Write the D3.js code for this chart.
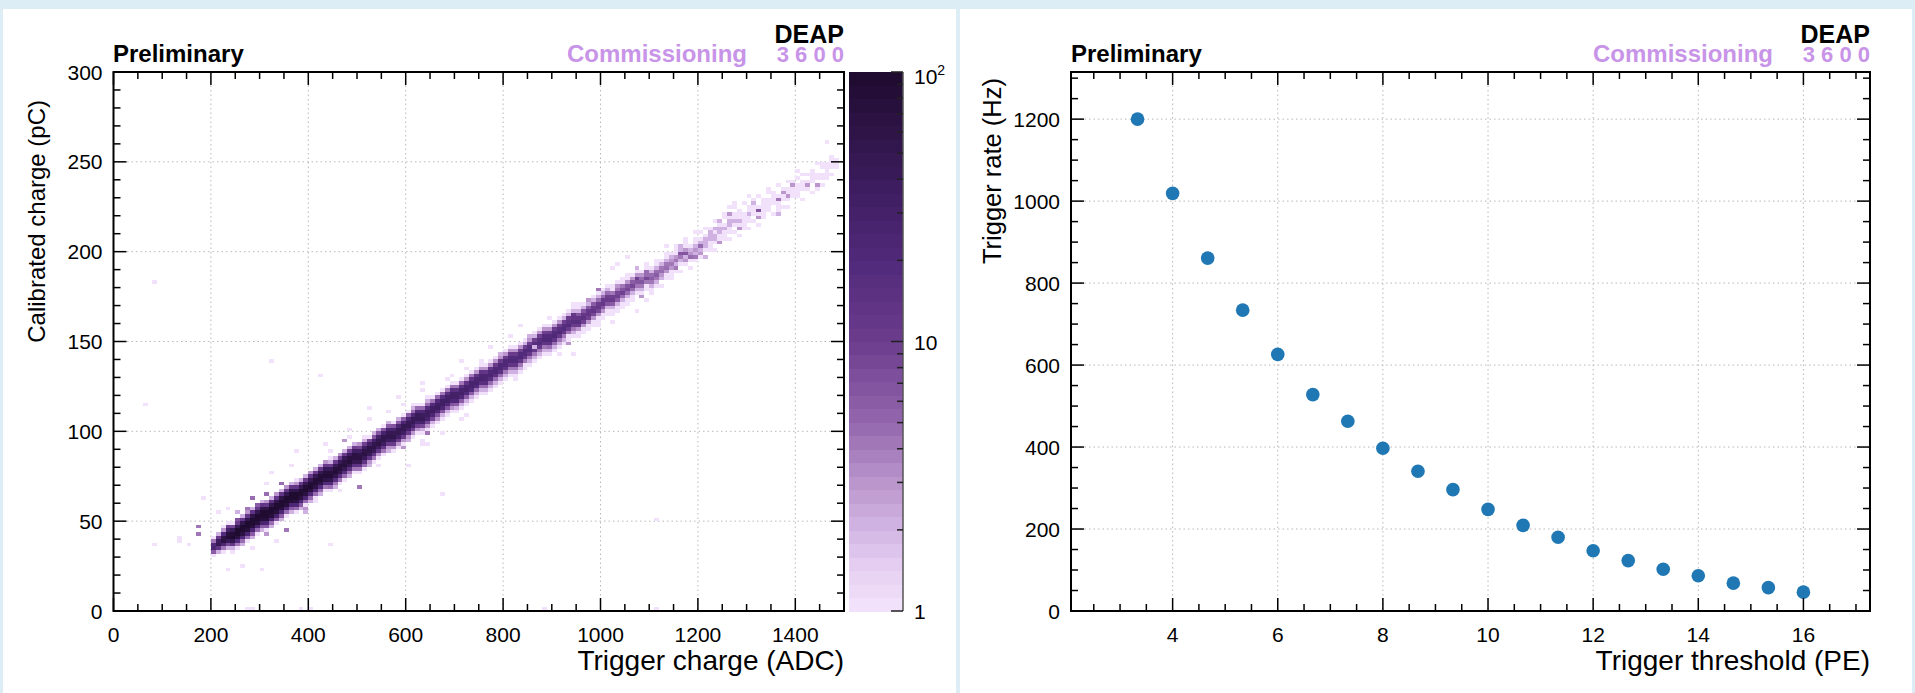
<!DOCTYPE html>
<html><head><meta charset="utf-8">
<script src="https://cdn.jsdelivr.net/npm/d3@7"></script>
<style>
body{margin:0;background:#dcedf5;}
svg{display:block;font-family:"Liberation Sans",Arial,Helvetica,sans-serif;}
</style>
</head><body>
<svg id="c" width="1915" height="693"></svg>
<script>
// ---------------- DATA ----------------
// Right panel: trigger rate vs threshold
const thresholdPE = [3.333,4,4.667,5.333,6,6.667,7.333,8,8.667,9.333,10,10.667,11.333,12,12.667,13.333,14,14.667,15.333,16];
const triggerRateHz = [1200,1019,861,734,626,528,463,397,341,296,248,209,180,147,123,102,86,68,57,46];

// Left panel: 2D histogram (10 ADC x 2 pC bins), band read column by column
const bandColX = [200,210,220,230,240,250,260,270,280,290,300,310,320,330,340,350,360,370,380,390,
  400,410,420,430,440,450,460,470,480,490,500,510,520,530,540,550,560,570,580,590,
  600,610,620,630,640,650,660,670,680,690,700,710,720,730,740,750,760,770,780,790,
  800,810,820,830,840,850,860,870,880,890,900,910,920,930,940,950,960,970,980,990,
  1000,1010,1020,1030,1040,1050,1060,1070,1080,1090,1100,1110,1120,1130,1140,1150,1160,1170,1180,1190,
  1200,1210,1220,1230,1240,1250,1260,1270,1280,1290,1300,1310,1320,1330,1340,1350,1360,1370,1380,1390,
  1400,1410,1420,1430,1440,1450,1460,1470,1480];
const bandCenterY = [34,36,38,40,40,42,44,46,48,50,52,52,54,56,58,60,62,62,64,66,
  68,70,72,74,74,76,78,80,82,84,84,86,88,90,92,94,96,96,98,100,
  102,104,106,106,108,110,112,114,116,118,118,120,122,124,126,128,128,130,132,134,
  136,138,138,140,142,144,146,148,150,150,152,154,156,158,160,160,162,164,166,168,
  170,172,172,174,176,178,180,182,182,184,184,186,188,190,192,194,196,198,198,200,
  202,204,206,208,210,212,214,216,216,218,220,222,222,224,226,228,228,230,232,234,
  236,236,238,240,240,242,244,246,248];
// counts in the bins at offsets -4..+4 (2 pC each) around the band centre
const bandProfiles = [
 [0,0,1,6,25,18,4,1,0],[0,0,2,14,45,38,10,2,0],[0,1,4,25,70,60,18,3,1],[0,2,8,40,85,75,30,5,1],[1,2,12,55,95,85,40,8,1],
 [1,4,18,65,100,92,48,10,2],[2,5,22,70,100,95,52,12,2],[1,5,24,75,100,95,55,12,3],[2,6,25,72,100,98,58,14,2],[1,5,24,75,100,95,55,12,3],
 [2,6,26,76,100,96,56,13,2],[1,6,25,74,100,98,58,12,3],[2,5,24,75,100,95,55,14,2],[1,6,26,76,100,96,56,12,3],[2,6,25,74,100,95,58,13,2],
 [1,5,24,72,100,94,55,12,3],[2,6,24,72,98,92,54,12,2],[1,5,22,70,96,90,52,13,3],[2,6,22,68,94,88,50,12,2],[1,5,22,66,92,86,48,11,2],
 [2,5,20,64,90,85,48,12,3],[1,5,20,62,88,82,46,11,2],[2,5,19,60,86,80,45,10,2],[1,4,18,58,84,78,44,11,3],[1,5,18,56,82,76,42,10,2],
 [2,4,17,54,80,74,40,10,2],[1,4,16,52,78,72,40,9,3],[1,5,16,50,75,70,38,10,2],[2,4,15,48,72,68,36,9,2],[1,4,15,46,70,65,35,9,2],
 [1,4,14,45,68,62,34,8,2],[1,4,14,43,65,60,32,8,2],[2,3,13,42,62,58,31,8,1],[1,4,13,40,60,56,30,7,2],[1,3,12,38,58,54,29,7,2],
 [1,4,12,37,56,52,28,7,1],[2,3,11,36,54,50,27,6,2],[1,3,11,34,52,48,26,7,1],[1,3,10,33,50,46,25,6,2],[1,3,10,32,48,45,24,6,1],
 [2,3,10,30,46,43,23,6,1],[1,3,9,29,44,42,22,5,2],[1,3,9,28,42,40,21,5,1],[1,2,8,27,40,38,20,5,1],[1,3,8,26,38,36,19,5,2],
 [1,2,8,25,37,35,18,4,1],[1,3,7,24,36,33,18,5,1],[1,2,7,23,34,32,17,4,1],[1,2,7,22,33,31,16,4,1],[1,3,7,21,32,30,16,4,1],
 [1,2,6,20,31,29,15,4,1],[1,2,6,20,30,28,15,4,1],[1,2,6,19,29,27,14,3,1],[1,2,6,18,28,26,14,4,1],[1,2,5,18,27,25,13,3,1],
 [1,2,5,17,26,24,13,3,1],[1,2,5,16,25,23,12,3,1],[1,2,5,16,24,22,12,3,1],[1,2,5,15,23,21,11,3,1],[1,2,5,15,22,21,11,3,1],
 [1,2,4,14,22,20,10,3,1],[1,2,4,14,21,19,10,3,1],[1,2,4,13,20,19,10,3,1],[1,2,4,13,20,18,9,3,1],[1,1,4,12,19,18,9,2,1],
 [1,2,4,12,19,17,9,3,1],[1,1,4,12,2,17,9,2,1],[1,2,4,12,19,17,9,3,1],[1,2,4,13,20,18,9,3,1],[1,2,5,13,21,18,10,3,1],
 [1,2,5,13,21,18,10,3,1],[1,2,4,12,20,17,9,3,1],[1,2,4,12,19,16,9,2,1],[1,1,4,11,18,15,8,2,1],[1,2,4,10,17,14,8,2,1],
 [1,1,3,10,16,13,7,2,1],[1,1,3,9,15,12,7,2,1],[1,1,3,9,14,12,6,2,1],[1,1,3,8,13,11,6,2,1],[1,1,3,8,12,10,5,2,1],
 [1,1,3,7,12,10,5,2,1],[1,1,2,7,11,9,5,2,1],[1,1,2,6,10,9,4,1,1],[1,1,2,6,9,8,4,2,1],[1,1,2,5,9,7,4,1,1],
 [0,1,2,5,8,7,3,1,1],[1,1,2,5,8,6,3,1,0],[0,1,2,4,7,6,3,1,1],[1,1,2,4,7,5,3,1,0],[0,1,1,4,6,5,2,1,1],
 [1,1,2,4,6,5,2,1,0],[0,1,2,4,6,5,2,1,1],[1,0,2,3,5,4,2,1,0],[0,1,1,3,5,4,2,1,1],[1,1,1,3,4,3,2,1,0],
 [0,1,1,2,4,3,1,1,1],[1,0,1,2,4,3,2,1,0],[0,1,1,2,3,3,1,1,1],[1,0,1,2,3,2,1,0,0],[0,1,1,2,3,2,1,1,0],
 [0,1,1,2,3,2,1,0,1],[1,0,1,2,2,2,1,0,1],[0,1,1,1,2,2,1,1,0],[1,0,1,2,2,1,1,0,1],[0,1,1,1,2,2,1,1,0],
 [0,1,1,1,2,1,0,1,1],[1,0,1,1,2,2,1,1,0],[0,1,0,1,2,1,1,0,1],[1,0,1,1,2,1,1,1,0],[0,1,1,1,1,1,0,0,1],
 [1,0,1,1,2,1,1,0,0],[0,1,0,1,1,1,1,1,0],[1,0,1,1,2,1,0,0,1],[0,1,1,1,1,1,1,0,0],[0,0,1,1,1,1,0,1,1],
 [1,0,0,1,1,1,1,0,0],[0,1,1,1,1,1,0,0,1],[0,1,0,1,1,1,1,0,0],[1,0,1,0,1,1,0,1,0],[0,0,1,1,1,1,1,0,0],
 [0,1,1,1,1,0,1,0,1],[1,0,0,1,1,1,0,1,0],[0,0,1,1,1,0,1,0,0],[1,0,0,1,1,1,1,0,0],[0,1,1,0,1,1,0,0,1],
 [0,1,0,1,1,0,1,1,0],[0,0,1,1,1,1,0,0,0],[0,0,1,0,1,1,1,0,0],[0,0,0,1,1,1,0,0,0]
];
// isolated / scattered bins: [ADC, pC, count]
const extraCells = [
 [1150,190,3],[1160,198,4],[1170,198,4],[1170,194,2],[1180,196,3],[1190,196,3],
 [1160,202,1],[1130,202,1],[1190,210,1],[1200,202,2],[1200,198,2],[1210,196,1],
 [1220,210,1],[1230,212,1],[1240,216,1],[1240,204,2],[1260,220,2],
 [1260,224,1],[1270,226,1],[1280,212,2],[1300,230,1],
 [1310,226,1],[1320,222,5],[1320,218,2],[1360,220,2],
 [1360,228,3],[1370,232,2],[1380,230,3],[1390,236,2],
 [1420,236,2],[1440,236,2],[1460,248,1],[1460,260,1],[1470,252,1],
 [80,182,1],[60,114,1],[320,138,1],[420,130,1],[370,88,1],[360,80,1],[320,76,1],[340,70,5],[310,64,5],
 [280,62,5],[180,62,1],[290,58,3],[250,54,2],[210,54,1],[170,46,4],[170,42,4],[130,40,1],[130,38,1],
 [80,36,1],[150,36,1],[230,46,4],[250,50,5],[350,44,4],[310,42,3],[280,34,1],[230,22,1],[260,24,1],
 [440,36,1],[670,64,1],[470,84,4],[500,68,4],[520,112,1],[520,106,1],[560,110,1],[480,100,1],[630,126,1],
 [640,98,4],[630,92,1],[670,98,1],[580,118,1],[710,138,1],[1110,50,1],
 [230,56,1],[270,56,4],[310,70,1],[330,38,1],[430,92,1],[440,88,1],[470,94,3],[480,96,1],[510,96,1],
 [500,92,1],[460,66,1],[440,84,1],[390,62,1],[390,56,3],[390,54,2],[370,72,1],[410,60,1],
 [770,146,1],[790,142,1],[750,138,1],[720,134,1],[680,128,1],[690,130,1],[630,122,1],[640,118,1],
 [590,114,1],[610,114,1],[720,108,1],[710,106,1],[630,94,1],[640,92,1],[590,90,3],[510,92,1],
 [600,80,1],[510,80,1],[540,80,1],
 [1050,196,1],[1030,192,1],[1020,190,1],[1070,190,1],[1090,188,3],[1070,184,3],[1090,184,2],[1080,174,2],
 [1090,172,1],[1070,166,1],[1050,170,1],[1030,180,1],[990,178,4],[970,172,2],[950,170,1],[940,164,4],
 [930,162,3],[890,162,1],[940,170,1],[1020,160,1],[990,158,1],[830,158,1],[810,152,1],[850,152,1],
 [910,142,1],[940,142,1],[930,148,3],[820,128,1],[860,140,1],
 [270,0,1],[280,0,1],[380,0,1],[400,0,1],[880,0,1],[1110,0,1],[300,22,1]
];
const binW = 10, binH = 2;

// axis tick values / labels
const leftXMajor = [0,200,400,600,800,1000,1200,1400];
const leftYMajor = [0,50,100,150,200,250,300];
const rightXMajor = [4,6,8,10,12,14,16];
const rightYMajor = [0,200,400,600,800,1000,1200];
const zMajor = [1,10,100];

// palette (light lavender -> dark purple), positions in log10(count)/2
const palPos = [0,0.088,0.15,0.24,0.35,0.5,0.65,0.8,1];
const palCol = ["#f4e4fc","#e4cdf1","#d3b7e4","#b995cc","#9467ae","#6c3c8d","#51297a","#3b1b5c","#1f0b2e"];

// ---------------- DRAW ----------------
const W=1915,H=693;
const svg=d3.select("#c");
svg.append("rect").attr("width",W).attr("height",H).attr("fill","#dcedf5");
svg.append("rect").attr("x",3).attr("y",9).attr("width",953).attr("height",H-9).attr("fill","#fff");
svg.append("rect").attr("x",960).attr("y",9).attr("width",952).attr("height",H-9).attr("fill","#fff");

const yTop=72, yBot=611;
const x1=d3.scaleLinear().domain([0,1500]).range([113.5,844]);
const y1=d3.scaleLinear().domain([0,300]).range([yBot,yTop]);
const x2=d3.scaleLinear().domain([2.0667,17.2667]).range([1071,1870]);
const y2=d3.scaleLinear().domain([0,1315]).range([yBot,yTop]);
const zS=d3.scaleLog().domain([1,100]).range([yBot,yTop]);
const pal=d3.scaleLinear().domain(palPos).range(palCol).interpolate(d3.interpolateRgb);
const NLEV=40;
function levelColor(n){ let t=Math.log10(n)/2; let i=Math.min(NLEV-1,Math.max(0,Math.floor(t*NLEV))); return pal((i+0.5)/NLEV); }

function grid(xs,ys,xv,yv){
  const g=svg.append("g").attr("stroke","#b8b8b8").attr("stroke-width",1).attr("stroke-dasharray","1.5,3");
  xv.forEach(v=>{ if(v>xs.domain()[0]&&v<xs.domain()[1]) g.append("line").attr("x1",xs(v)).attr("x2",xs(v)).attr("y1",yTop).attr("y2",yBot);});
  yv.forEach(v=>{ if(v>ys.domain()[0]&&v<ys.domain()[1]) g.append("line").attr("y1",ys(v)).attr("y2",ys(v)).attr("x1",xs.range()[0]).attr("x2",xs.range()[1]);});
}
function frameTicks(xs,ys,xMaj,xMin,yMaj,yMin){
  const g=svg.append("g").attr("stroke","#000").attr("stroke-width",1.5);
  const [xa,xb]=xs.range();
  const inX=v=>v>=xs.domain()[0]-1e-9&&v<=xs.domain()[1]+1e-9;
  const inY=v=>v>=ys.domain()[0]-1e-9&&v<=ys.domain()[1]+1e-9;
  const L=13,l=7;
  xMaj.filter(inX).forEach(v=>{g.append("line").attr("x1",xs(v)).attr("x2",xs(v)).attr("y1",yBot).attr("y2",yBot-L);
    g.append("line").attr("x1",xs(v)).attr("x2",xs(v)).attr("y1",yTop).attr("y2",yTop+L);});
  xMin.filter(inX).forEach(v=>{g.append("line").attr("x1",xs(v)).attr("x2",xs(v)).attr("y1",yBot).attr("y2",yBot-l);
    g.append("line").attr("x1",xs(v)).attr("x2",xs(v)).attr("y1",yTop).attr("y2",yTop+l);});
  yMaj.filter(inY).forEach(v=>{g.append("line").attr("y1",ys(v)).attr("y2",ys(v)).attr("x1",xa).attr("x2",xa+L);
    g.append("line").attr("y1",ys(v)).attr("y2",ys(v)).attr("x1",xb).attr("x2",xb-L);});
  yMin.filter(inY).forEach(v=>{g.append("line").attr("y1",ys(v)).attr("y2",ys(v)).attr("x1",xa).attr("x2",xa+l);
    g.append("line").attr("y1",ys(v)).attr("y2",ys(v)).attr("x1",xb).attr("x2",xb-l);});
  svg.append("rect").attr("x",xa).attr("y",yTop).attr("width",xb-xa).attr("height",yBot-yTop)
    .attr("fill","none").attr("stroke","#000").attr("stroke-width",2);
}
function labels(xs,ys,xMaj,yMaj,xFmt,yFmt){
  const g=svg.append("g").attr("font-size",21).attr("fill","#000");
  xMaj.filter(v=>v>=xs.domain()[0]&&v<=xs.domain()[1]).forEach(v=>g.append("text").attr("x",xs(v)).attr("y",642).attr("text-anchor","middle").text(xFmt(v)));
  yMaj.filter(v=>v>=ys.domain()[0]&&v<=ys.domain()[1]).forEach(v=>g.append("text").attr("x",xs.range()[0]-11).attr("y",ys(v)+7.5).attr("text-anchor","end").text(yFmt(v)));
}
function header(xl,xr){
  svg.append("text").attr("x",xl).attr("y",62).attr("font-size",24).attr("font-weight","bold").text("Preliminary");
  svg.append("text").attr("x",xr-97).attr("y",62).attr("text-anchor","end").attr("font-size",24).attr("font-weight","bold").attr("fill","#c894e8").text("Commissioning");
  svg.append("text").attr("x",xr).attr("y",62).attr("text-anchor","end").attr("font-size",22).attr("font-weight","bold").attr("fill","#c894e8").text("3 6 0 0");
  svg.append("text").attr("x",xr).attr("y",43).attr("text-anchor","end").attr("font-size",25).attr("font-weight","bold").attr("fill","#000").text("DEAP");
}

// ---- left panel ----
const fmt=d3.format("d");
grid(x1,y1,leftXMajor,leftYMajor);
const cells=new Map();
function addCell(x,y,n){ const k=x+","+y; cells.set(k,(cells.get(k)||0)+n); }
bandColX.forEach((x,i)=>bandProfiles[i].forEach((n,j)=>{ if(n>0) addCell(x,bandCenterY[i]+(j-4)*binH,n); }));
extraCells.forEach(([x,y,n])=>addCell(x,y,n));
const cellData=[...cells].map(([k,n])=>{const [x,y]=k.split(",").map(Number);return {x,y,n};});
svg.append("g").attr("shape-rendering","crispEdges").selectAll("rect").data(cellData).join("rect")
  .attr("x",d=>x1(d.x)).attr("width",d=>x1(d.x+binW)-x1(d.x))
  .attr("y",d=>y1(d.y+binH)).attr("height",d=>y1(d.y)-y1(d.y+binH))
  .attr("fill",d=>levelColor(d.n));
frameTicks(x1,y1,leftXMajor,d3.range(0,1501,50).filter(v=>v%200),leftYMajor,d3.range(0,301,10).filter(v=>v%50));
labels(x1,y1,leftXMajor,leftYMajor,fmt,fmt);
svg.append("text").attr("x",844).attr("y",670).attr("text-anchor","end").attr("font-size",28).text("Trigger charge (ADC)");
svg.append("text").attr("transform","translate(45,100) rotate(-90)").attr("text-anchor","end").attr("font-size",24).text("Calibrated charge (pC)");
header(113,844);

// colour bar
const cbx=849, cbw=54;
const cb=svg.append("g").attr("shape-rendering","crispEdges");
d3.range(NLEV).forEach(i=>{
  const v0=Math.pow(10,2*i/NLEV), v1=Math.pow(10,2*(i+1)/NLEV);
  cb.append("rect").attr("x",cbx).attr("width",cbw).attr("y",zS(v1)).attr("height",zS(v0)-zS(v1)+0.5).attr("fill",pal((i+0.5)/NLEV));
});
const cbt=svg.append("g").attr("stroke","#555").attr("stroke-width",1.5);
cbt.append("line").attr("x1",cbx+cbw).attr("x2",cbx+cbw).attr("y1",yTop).attr("y2",yBot);
[2,3,4,5,6,7,8,9,20,30,40,50,60,70,80,90].forEach(v=>cbt.append("line").attr("x1",cbx+cbw).attr("x2",cbx+cbw-6).attr("y1",zS(v)).attr("y2",zS(v)).attr("stroke","#222"));
zMajor.forEach(v=>cbt.append("line").attr("x1",cbx+cbw).attr("x2",cbx+cbw-12).attr("y1",zS(v)).attr("y2",zS(v)).attr("stroke","#222"));
svg.append("text").attr("x",914).attr("y",zS(1)+8).attr("font-size",21).text("1");
svg.append("text").attr("x",914).attr("y",zS(10)+8).attr("font-size",21).text("10");
const t100=svg.append("text").attr("x",914).attr("y",zS(100)+12).attr("font-size",21);
t100.append("tspan").text("10");
t100.append("tspan").attr("font-size",14).attr("dy",-9).text("2");

// ---- right panel ----
grid(x2,y2,rightXMajor,rightYMajor);
svg.append("g").selectAll("circle").data(thresholdPE.map((t,i)=>[t,triggerRateHz[i]])).join("circle")
  .attr("cx",d=>x2(d[0])).attr("cy",d=>y2(d[1])).attr("r",6.8).attr("fill","#1f77b4");
frameTicks(x2,y2,rightXMajor,d3.range(2.5,17.3,0.5).filter(v=>v%2),rightYMajor,d3.range(0,1316,50).filter(v=>v%200));
labels(x2,y2,rightXMajor,rightYMajor,fmt,fmt);
svg.append("text").attr("x",1870).attr("y",670).attr("text-anchor","end").attr("font-size",28).text("Trigger threshold (PE)");
svg.append("text").attr("transform","translate(1001,78) rotate(-90)").attr("text-anchor","end").attr("font-size",25.5).text("Trigger rate (Hz)");
header(1071,1870);
</script>
</body></html>
